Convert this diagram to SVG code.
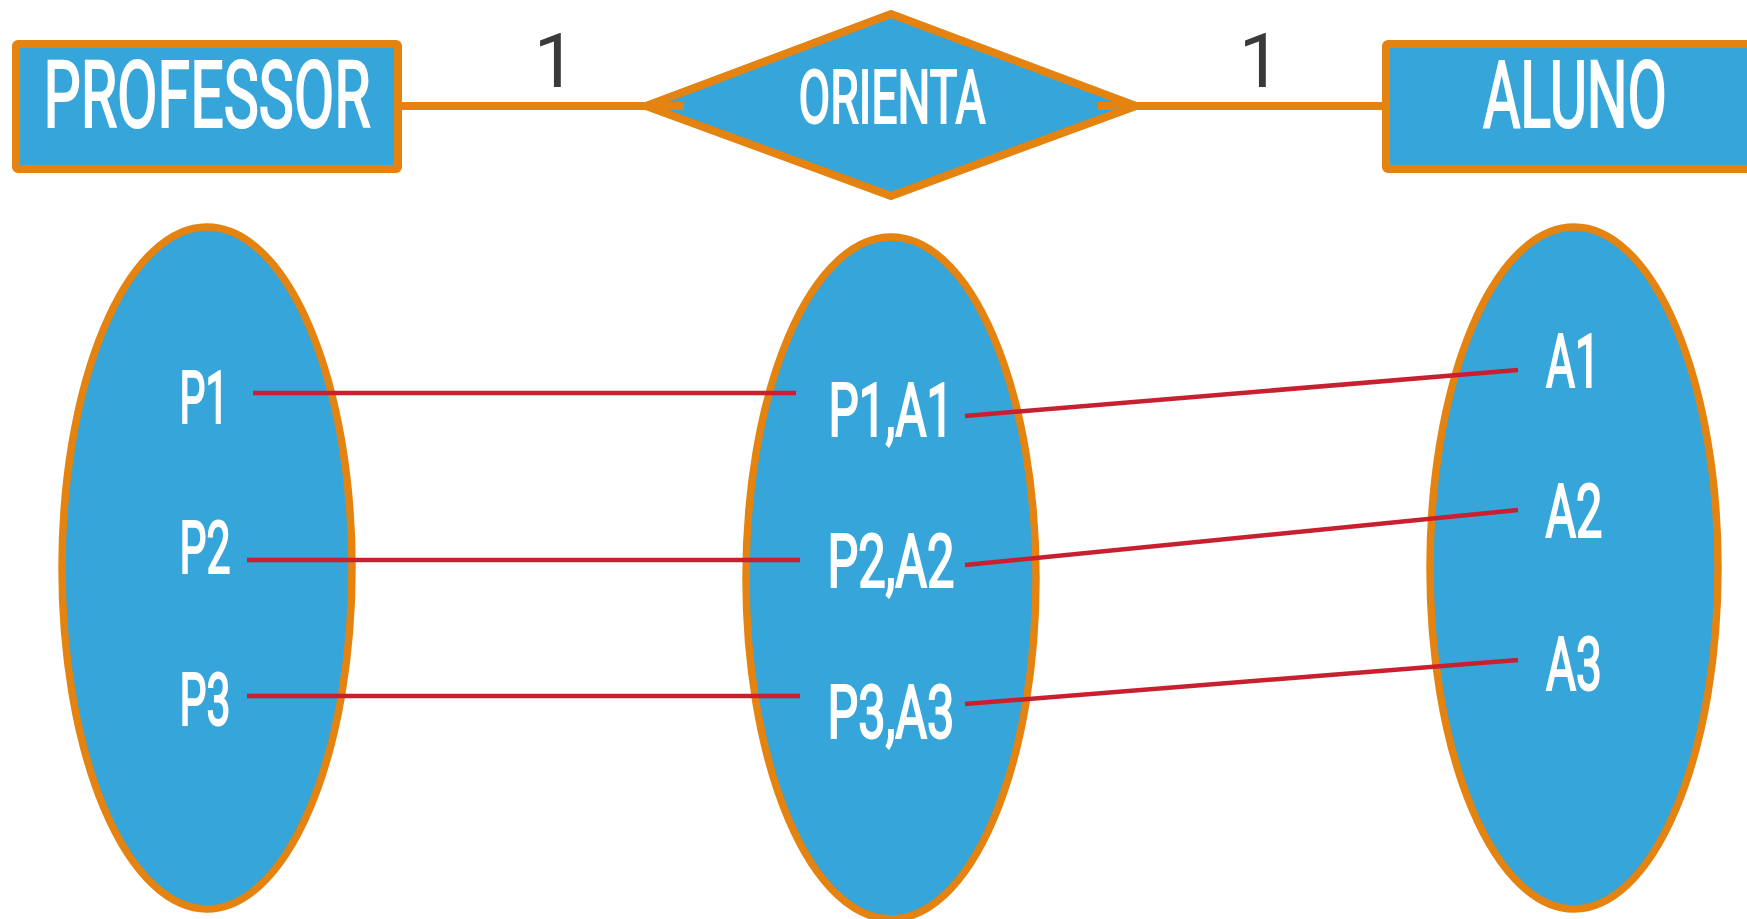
<svg xmlns="http://www.w3.org/2000/svg" width="1747" height="919" viewBox="0 0 1747 919">
<style>
.ent{fill:#35A5DA;stroke:#E4830F;stroke-width:8;stroke-linejoin:round}
.set{fill:#35A5DA;stroke:#E4830F;stroke-width:7.5}
.con{stroke:#E4830F;stroke-width:8;fill:none}
.map{stroke:#C8202F;stroke-width:4.5;fill:none}
.lbl{font-family:Roboto,"DejaVu Sans Condensed",sans-serif;font-weight:400;fill:#FFFFFF;stroke:#FFFFFF;stroke-width:2.2;stroke-linejoin:miter;text-anchor:middle}
.card{font-family:Roboto,"Liberation Sans",sans-serif;fill:#3A3A3A;text-anchor:middle;font-size:76px}
</style>
<rect width="1747" height="919" fill="#FFFFFF"/>
<g id="connectors">
<line class="con" x1="398" y1="106" x2="684" y2="106"/>
<line class="con" x1="1098" y1="106" x2="1388" y2="106"/>
</g>
<g id="professor">
<rect class="ent" x="16" y="44" width="382" height="125" rx="2"/>
<text class="lbl" x="207" y="127" font-size="92" textLength="327" lengthAdjust="spacingAndGlyphs">PROFESSOR</text>
</g>
<g id="orienta">
<polygon class="ent" points="646,106 891,14 1136,106 891,196"/>
<line class="con" x1="646" y1="106" x2="684" y2="106"/>
<line class="con" x1="1098" y1="106" x2="1136" y2="106"/>
<text class="lbl" x="892" y="123" font-size="75" textLength="187" lengthAdjust="spacingAndGlyphs">ORIENTA</text>
</g>
<g id="aluno">
<rect class="ent" x="1386" y="44" width="380" height="125" rx="2"/>
<text class="lbl" x="1575" y="127" font-size="92" textLength="184" lengthAdjust="spacingAndGlyphs">ALUNO</text>
</g>
<g id="card-left"><text class="card" x="555" y="87">1</text></g>
<g id="card-right"><text class="card" x="1260" y="87">1</text></g>
<g id="set-professor">
<ellipse class="set" cx="207" cy="568" rx="145" ry="341"/>
</g>
<g id="set-orienta">
<ellipse class="set" cx="891" cy="578" rx="145" ry="341"/>
</g>
<g id="set-aluno">
<ellipse class="set" cx="1574" cy="568" rx="144" ry="341"/>
</g>
<g id="mappings">
<line class="map" x1="253" y1="393" x2="796" y2="393"/>
<line class="map" x1="247" y1="560" x2="800" y2="560"/>
<line class="map" x1="247" y1="696" x2="800" y2="696"/>
<line class="map" x1="965" y1="416" x2="1518" y2="370"/>
<line class="map" x1="965" y1="565" x2="1518" y2="510"/>
<line class="map" x1="965" y1="704" x2="1518" y2="660"/>
</g>
<g id="elements">
<text class="lbl" x="204" y="423" font-size="73" textLength="49" lengthAdjust="spacingAndGlyphs">P1</text>
<text class="lbl" x="205" y="573" font-size="73" textLength="51" lengthAdjust="spacingAndGlyphs">P2</text>
<text class="lbl" x="205" y="725" font-size="73" textLength="51" lengthAdjust="spacingAndGlyphs">P3</text>
<text class="lbl" x="891" y="436" font-size="75" textLength="125" lengthAdjust="spacingAndGlyphs">P1,A1</text>
<text class="lbl" x="891" y="587" font-size="75" textLength="127" lengthAdjust="spacingAndGlyphs">P2,A2</text>
<text class="lbl" x="891" y="738" font-size="75" textLength="127" lengthAdjust="spacingAndGlyphs">P3,A3</text>
<text class="lbl" x="1573" y="387" font-size="74" textLength="54" lengthAdjust="spacingAndGlyphs">A1</text>
<text class="lbl" x="1574" y="537" font-size="74" textLength="57" lengthAdjust="spacingAndGlyphs">A2</text>
<text class="lbl" x="1574" y="690" font-size="74" textLength="56" lengthAdjust="spacingAndGlyphs">A3</text>
</g>
</svg>
